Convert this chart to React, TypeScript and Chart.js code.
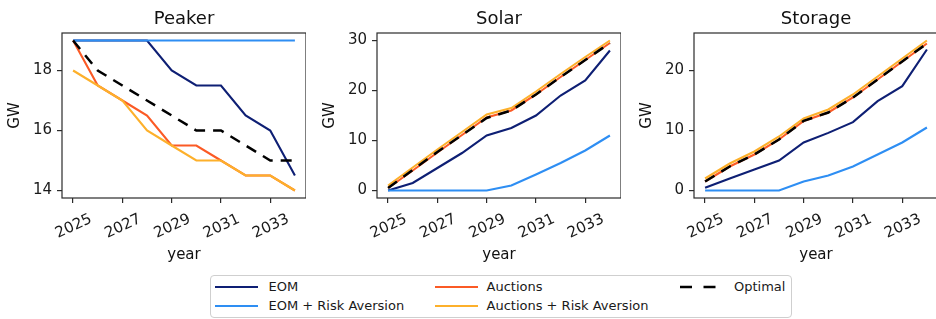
import React, { useEffect, useRef } from "react";
import { Chart, registerables } from "chart.js";

Chart.register(...registerables);

const FONT = "'DejaVu Sans', sans-serif";

// ---------------- data ----------------
const years = [2025, 2026, 2027, 2028, 2029, 2030, 2031, 2032, 2033, 2034];
const xTickValues = [2025, 2027, 2029, 2031, 2033];

const seriesNames = ["EOM", "EOM + Risk Aversion", "Auctions", "Auctions + Risk Aversion", "Optimal"];
const seriesColors = ["#0e1f74", "#2e8ef3", "#fb5a25", "#fdb02b", "#000000"];

const peakerEOM = [19, 19, 19, 19, 18, 17.5, 17.5, 16.5, 16, 14.5];
const peakerEOMRisk = [19, 19, 19, 19, 19, 19, 19, 19, 19, 19];
const peakerAuctions = [19, 17.5, 17, 16.5, 15.5, 15.5, 15, 14.5, 14.5, 14];
const peakerAuctionsRisk = [18, 17.5, 17, 16, 15.5, 15, 15, 14.5, 14.5, 14];
const peakerOptimal = [19, 18, 17.5, 17, 16.5, 16, 16, 15.5, 15, 15];
const peakerTicks = [14, 16, 18];

const solarEOM = [0, 1.5, 4.5, 7.5, 11, 12.5, 15, 19, 22, 28];
const solarEOMRisk = [0, 0, 0, 0, 0, 1, 3.2, 5.5, 8, 11];
const solarAuctions = [0.5, 4, 7.6, 11.1, 14.6, 16, 19.2, 22.7, 26.1, 29.5];
const solarAuctionsRisk = [1, 4.6, 8.2, 11.7, 15.2, 16.5, 19.8, 23.3, 26.7, 30];
const solarOptimal = [0.5, 4.1, 7.7, 11.1, 14.5, 16, 19.2, 22.7, 26.1, 29.5];
const solarTicks = [0, 10, 20, 30];

const storageEOM = [0.45, 2, 3.5, 5, 8, 9.6, 11.4, 14.9, 17.4, 23.5];
const storageEOMRisk = [0, 0, 0, 0, 1.5, 2.5, 4, 6, 8, 10.5];
const storageAuctions = [1.5, 4, 6, 8.5, 11.6, 13, 15.5, 18.5, 21.5, 24.5];
const storageAuctionsRisk = [2, 4.5, 6.5, 9, 12, 13.5, 16, 19, 22, 25];
const storageOptimal = [1.5, 4, 6, 8.5, 11.6, 13, 15.5, 18.5, 21.5, 24.5];
const storageTicks = [0, 10, 20];

// ---------------- layout ----------------
const CANVAS_H = 270;
const PLOT_TOP = 33;
const PLOT_BOTTOM = 198;
const Y_AXIS_W = 62;
const PLOT_W = 244;

const panelDecor = {
  id: "panelDecor",
  afterDatasetsDraw(chart: any) {
    const { ctx, chartArea } = chart;
    ctx.save();
    ctx.strokeStyle = "#2b2b2b";
    ctx.lineWidth = 1.2;
    ctx.strokeRect(chartArea.left, chartArea.top, chartArea.right - chartArea.left, chartArea.bottom - chartArea.top);
    ctx.restore();
  },
  afterDraw(chart: any, _args: any, opts: any) {
    const { ctx, chartArea } = chart;
    const xs = chart.scales.x;
    ctx.save();
    // title
    ctx.font = `18px ${FONT}`;
    ctx.fillStyle = "#111";
    ctx.textAlign = "center";
    ctx.textBaseline = "alphabetic";
    ctx.fillText(opts.title || "", (chartArea.left + chartArea.right) / 2, 24);
    // rotated x tick labels, centred on the tick
    ctx.font = `15px ${FONT}`;
    ctx.fillStyle = "#1a1a1a";
    for (const v of xTickValues) {
      const x = xs.getPixelForValue(v);
      ctx.save();
      ctx.translate(x, chartArea.bottom + 27);
      ctx.rotate((-25 * Math.PI) / 180);
      ctx.textAlign = "center";
      ctx.textBaseline = "alphabetic";
      ctx.fillText(String(v), 0, 0.365 * 15);
      ctx.restore();
    }
    ctx.restore();
  },
};

type PanelProps = {
  title: string;
  series: number[][];
  yTicks: number[];
  left: number;
};

function Panel({ title, series, yTicks, left }: PanelProps) {
  const ref = useRef<HTMLCanvasElement | null>(null);
  useEffect(() => {
    if (!ref.current) return;
    const all = series.flat();
    const lo = Math.min(...all);
    const hi = Math.max(...all);
    const m = (hi - lo) * 0.05;
    const xm = (years[years.length - 1] - years[0]) * 0.05;
    const chart = new Chart(ref.current, {
      type: "line",
      data: {
        datasets: series.map((vals, i) => ({
          label: seriesNames[i],
          data: years.map((yr, j) => ({ x: yr, y: vals[j] })),
          borderColor: seriesColors[i],
          backgroundColor: seriesColors[i],
          borderWidth: i === 4 ? 2.5 : 2.1,
          borderDash: i === 4 ? [11, 8] : [],
          pointRadius: 0,
          tension: 0,
          fill: false,
          order: -i,
        })),
      },
      options: {
        responsive: false,
        animation: false,
        devicePixelRatio: 1,
        layout: { padding: { top: PLOT_TOP, right: 0, bottom: 0, left: 0 } },
        plugins: {
          legend: { display: false },
          tooltip: { enabled: false },
          title: { display: false },
          panelDecor: { title },
        } as any,
        scales: {
          x: {
            type: "linear",
            min: years[0] - xm,
            max: years[years.length - 1] + xm,
            afterBuildTicks: (s: any) => {
              s.ticks = xTickValues.map((v) => ({ value: v }));
            },
            afterFit: (s: any) => {
              s.height = CANVAS_H - PLOT_BOTTOM;
            },
            ticks: { display: false },
            grid: { display: true, drawOnChartArea: false, drawTicks: true, tickLength: 5, color: "#2b2b2b", lineWidth: 1.2 },
            border: { display: false },
            title: { display: true, text: "year", color: "#111", font: { family: FONT, size: 15 }, padding: { top: 0, bottom: 6 } },
          },
          y: {
            type: "linear",
            min: lo - m,
            max: hi + m,
            afterBuildTicks: (s: any) => {
              s.ticks = yTicks.map((v) => ({ value: v }));
            },
            afterFit: (s: any) => {
              s.width = Y_AXIS_W;
            },
            ticks: { color: "#1a1a1a", font: { family: FONT, size: 15 }, padding: 5 },
            grid: { display: true, drawOnChartArea: false, drawTicks: true, tickLength: 5, color: "#2b2b2b", lineWidth: 1.2 },
            border: { display: false },
            title: { display: true, text: "GW", color: "#111", font: { family: FONT, size: 15 }, padding: { top: 6, bottom: 0 } },
          },
        },
      } as any,
      plugins: [panelDecor],
    });
    return () => chart.destroy();
  }, []);
  const w = Y_AXIS_W + PLOT_W;
  return (
    <canvas
      ref={ref}
      width={w}
      height={CANVAS_H}
      style={{ position: "absolute", left, top: 0, width: w, height: CANVAS_H }}
    />
  );
}

const legendCols = [
  [0, 1],
  [2, 3],
  [4],
];
const legendLineX = [214.5, 434.5, 680];
const legendTextX = [268.5, 486.5, 734];
const legendRowY = [287, 306];

function Legend() {
  const items: React.ReactNode[] = [];
  legendCols.forEach((col, ci) => {
    col.forEach((si, ri) => {
      const y = legendRowY[ri];
      items.push(
        <svg
          key={`l${si}`}
          width={44}
          height={6}
          style={{ position: "absolute", left: legendLineX[ci], top: y - 3 }}
        >
          <line
            x1={0}
            y1={3}
            x2={43}
            y2={3}
            stroke={seriesColors[si]}
            strokeWidth={si === 4 ? 2.5 : 2.1}
            strokeDasharray={si === 4 ? "12 11.5" : undefined}
          />
        </svg>
      );
      items.push(
        <span
          key={`t${si}`}
          style={{
            position: "absolute",
            left: legendTextX[ci],
            top: y - 8,
            height: 16,
            lineHeight: "16px",
            fontSize: 13,
            fontFamily: FONT,
            color: "#1a1a1a",
            whiteSpace: "nowrap",
          }}
        >
          {seriesNames[si]}
        </span>
      );
    });
  });
  return (
    <>
      <div
        style={{
          position: "absolute",
          left: 210,
          top: 275,
          width: 582,
          height: 43,
          boxSizing: "border-box",
          border: "1px solid #cfcfcf",
          borderRadius: 4,
          background: "#fff",
        }}
      />
      {items}
    </>
  );
}

export default function App() {
  return (
    <div
      style={{
        position: "absolute",
        left: 0,
        top: 0,
        width: 936,
        height: 319,
        overflow: "hidden",
        background: "#fff",
      }}
    >
      <Panel
        title="Peaker"
        series={[peakerEOM, peakerEOMRisk, peakerAuctions, peakerAuctionsRisk, peakerOptimal]}
        yTicks={peakerTicks}
        left={0}
      />
      <Panel
        title="Solar"
        series={[solarEOM, solarEOMRisk, solarAuctions, solarAuctionsRisk, solarOptimal]}
        yTicks={solarTicks}
        left={315}
      />
      <Panel
        title="Storage"
        series={[storageEOM, storageEOMRisk, storageAuctions, storageAuctionsRisk, storageOptimal]}
        yTicks={storageTicks}
        left={632}
      />
      <Legend />
    </div>
  );
}
